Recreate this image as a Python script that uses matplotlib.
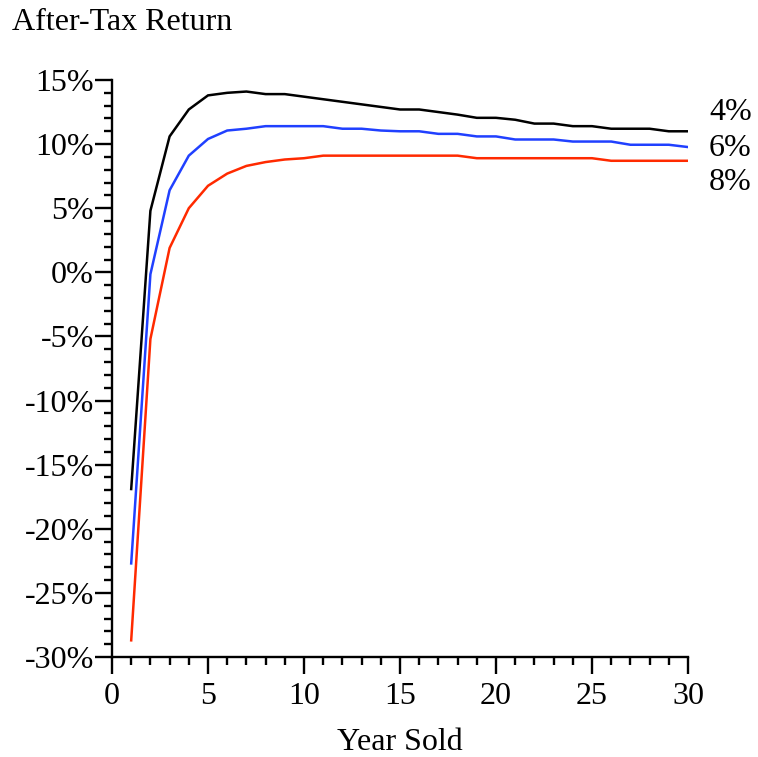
import numpy as np
import matplotlib
matplotlib.use('Agg')
import matplotlib.pyplot as plt
from matplotlib.ticker import MultipleLocator, FuncFormatter

# After-tax return by holding period, for three appreciation rates
years = list(range(1, 31))
rate4 = [-16.9, 4.8, 10.6, 12.7, 13.8, 14.0, 14.1, 13.9, 13.9, 13.7,
         13.5, 13.3, 13.1, 12.9, 12.7, 12.7, 12.5, 12.3, 12.05, 12.05,
         11.9, 11.6, 11.6, 11.4, 11.4, 11.2, 11.2, 11.2, 11.0, 11.0]
rate6 = [-22.7, -0.15, 6.4, 9.1, 10.4, 11.06, 11.2, 11.4, 11.4, 11.4,
         11.4, 11.2, 11.2, 11.06, 11.0, 11.0, 10.8, 10.8, 10.6, 10.6,
         10.36, 10.36, 10.36, 10.2, 10.2, 10.2, 9.95, 9.95, 9.95, 9.77]
rate8 = [-28.7, -5.2, 1.9, 5.0, 6.75, 7.7, 8.3, 8.6, 8.8, 8.9,
         9.1, 9.1, 9.1, 9.1, 9.1, 9.1, 9.1, 9.1, 8.9, 8.9,
         8.9, 8.9, 8.9, 8.9, 8.9, 8.7, 8.7, 8.7, 8.7, 8.7]
seriesLabels = ['4%', '6%', '8%']
colors = ['black', '#2040ff', '#ff2a00']

fontSize = 23
matplotlib.rcParams['font.family'] = ['Liberation Serif', 'DejaVu Serif']

fig = plt.figure(figsize=(7.58, 7.57), dpi=100)
ax = fig.add_axes([112/758, 100/757, 576/758, 577/757])

for vals, c in zip([rate4, rate6, rate8], colors):
  ax.plot(years, vals, '-', color=c, linewidth=1.8, solid_joinstyle='miter')

ax.set_xlim(0, 30)
ax.set_ylim(-30, 15)

ax.spines['top'].set_visible(False)
ax.spines['right'].set_visible(False)
ax.spines['left'].set_linewidth(1.7)
ax.spines['bottom'].set_linewidth(1.7)

ax.xaxis.set_major_locator(MultipleLocator(5))
ax.xaxis.set_minor_locator(MultipleLocator(1))
ax.yaxis.set_major_locator(MultipleLocator(5))
ax.yaxis.set_minor_locator(MultipleLocator(1))
ax.yaxis.set_major_formatter(FuncFormatter(lambda v, p: '%d%%' % round(v)))

ax.tick_params(which='major', direction='out', length=12, width=1.7,
               labelsize=fontSize)
ax.tick_params(which='minor', direction='out', length=6, width=1.7)
ax.tick_params(axis='x', which='major', pad=6)
ax.tick_params(axis='y', which='major', pad=1)

ax.set_xlabel('Year Sold', fontsize=fontSize, labelpad=12)

# Series labels to the right of the line ends
labelY = [113, 148, 183]
for lab, yp in zip(seriesLabels, labelY):
  fig.text(709/758, 1 - yp/757, lab, fontsize=fontSize, ha='left', va='center')

fig.text(12/758, 1 - 22/757, 'After-Tax Return', fontsize=fontSize,
         ha='left', va='center')

fig.savefig('out.png', dpi=100)
